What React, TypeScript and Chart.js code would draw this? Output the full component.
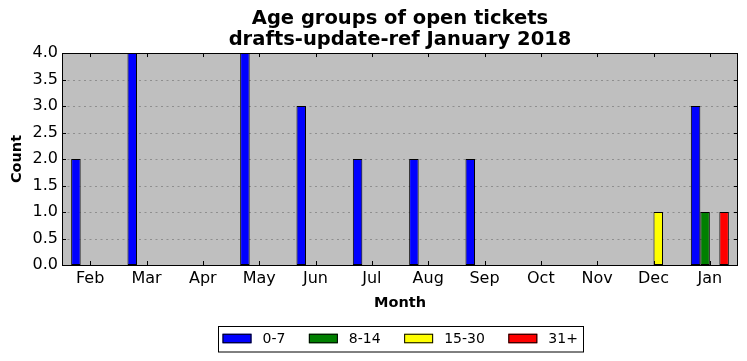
import React, { useEffect, useRef } from "react";
import { Chart, registerables } from "chart.js";

Chart.register(...registerables);

const months = ["Feb", "Mar", "Apr", "May", "Jun", "Jul", "Aug", "Sep", "Oct", "Nov", "Dec", "Jan"];
const age0to7 = [2, 4, 0, 4, 3, 2, 2, 2, 0, 0, 0, 3];
const age8to14 = [0, 0, 0, 0, 0, 0, 0, 0, 0, 0, 0, 1];
const age15to30 = [0, 0, 0, 0, 0, 0, 0, 0, 0, 0, 1, 0];
const age31plus = [0, 0, 0, 0, 0, 0, 0, 0, 0, 0, 0, 1];
const seriesLabels = ["0-7", "8-14", "15-30", "31+"];
const seriesColors = ["#0000ff", "#008000", "#ffff00", "#ff0000"];
const titleLines = ["Age groups of open tickets", "drafts-update-ref January 2018"];
const yMin = 0;
const yMax = 4;
const yStep = 0.5;

const FONT = "'DejaVu Sans', Verdana, sans-serif";

const decorPlugin = {
  id: "decor",
  beforeDraw(chart: any) {
    const { ctx, chartArea: a } = chart;
    ctx.save();
    ctx.fillStyle = "#bfbfbf";
    ctx.fillRect(a.left, a.top, a.right - a.left, a.bottom - a.top);
    // dotted horizontal grid
    const y = chart.scales.y;
    ctx.strokeStyle = "#8e8e8e";
    ctx.lineWidth = 1;
    ctx.setLineDash([2, 3.5]);
    ctx.beginPath();
    y.ticks.forEach((_: any, i: number) => {
      const py = Math.round(y.getPixelForTick(i)) + 0.5;
      ctx.moveTo(a.left, py);
      ctx.lineTo(a.right, py);
    });
    ctx.stroke();
    ctx.restore();
  },
  afterDatasetsDraw(chart: any) {
    const { ctx, chartArea: a, scales } = chart;
    ctx.save();
    ctx.strokeStyle = "#000";
    ctx.lineWidth = 1;
    const tl = 4;
    ctx.beginPath();
    scales.x.ticks.forEach((_: any, i: number) => {
      const px = Math.round(scales.x.getPixelForTick(i)) + 0.5;
      ctx.moveTo(px, a.top);
      ctx.lineTo(px, a.top + tl);
      ctx.moveTo(px, a.bottom);
      ctx.lineTo(px, a.bottom - tl);
    });
    scales.y.ticks.forEach((_: any, i: number) => {
      const py = Math.round(scales.y.getPixelForTick(i)) + 0.5;
      ctx.moveTo(a.left, py);
      ctx.lineTo(a.left + tl, py);
      ctx.moveTo(a.right, py);
      ctx.lineTo(a.right - tl, py);
    });
    ctx.stroke();
    ctx.strokeRect(Math.round(a.left) + 0.5, Math.round(a.top) + 0.5, Math.round(a.right - a.left) - 1, Math.round(a.bottom - a.top));
    ctx.restore();
  },
  afterDraw(chart: any) {
    const { ctx, chartArea: a } = chart;
    const ds = chart.data.datasets;
    ctx.save();
    ctx.font = `14px ${FONT}`;
    const boxW = 29;
    const boxH = 9.5;
    const gap = 11;
    const colSpace = 23.5;
    const padL = 4.5;
    const padR = 5;
    const widths = ds.map((d: any) => ctx.measureText(d.label).width);
    let total = padL + padR + colSpace * (ds.length - 1);
    widths.forEach((w: number) => (total += boxW + gap + w));
    const cx = (a.left + a.right) / 2;
    const left = Math.round(cx - total / 2);
    const top = 326;
    const h = 25.5;
    ctx.strokeStyle = "#000";
    ctx.lineWidth = 1;
    ctx.strokeRect(left + 0.5, top + 0.5, Math.round(total), h);
    let x = left + padL;
    const cy = top + 12.5;
    ds.forEach((d: any, i: number) => {
      ctx.fillStyle = d.backgroundColor;
      ctx.fillRect(x, cy - boxH / 2, boxW, boxH);
      ctx.strokeRect(x + 0.5, cy - boxH / 2 + 0.5, boxW - 1, boxH - 1);
      ctx.fillStyle = "#000";
      ctx.textBaseline = "middle";
      ctx.textAlign = "left";
      ctx.fillText(d.label, x + boxW + gap, cy + 0.5);
      x += boxW + gap + widths[i] + colSpace;
    });
    ctx.restore();
  },
};

export default function App() {
  const ref = useRef<HTMLCanvasElement | null>(null);
  useEffect(() => {
    if (!ref.current) return;
    const series = [age0to7, age8to14, age15to30, age31plus];
    const chart = new Chart(ref.current, {
      type: "bar",
      data: {
        labels: months,
        datasets: series.map((values, i) => ({
          label: seriesLabels[i],
          data: values,
          backgroundColor: seriesColors[i],
          borderColor: "#000",
          borderWidth: 1,
          borderSkipped: false,
          categoryPercentage: 0.675,
          barPercentage: 1,
        })),
      },
      options: {
        responsive: false,
        devicePixelRatio: 1,
        animation: false,
        layout: { padding: { top: 0, left: 0, right: 9, bottom: 46 } },
        plugins: {
          legend: { display: false },
          tooltip: { enabled: false },
          title: {
            display: true,
            text: titleLines,
            fullSize: false,
            color: "#000",
            font: { family: FONT, size: 19.5, weight: "bold", lineHeight: 1.06 },
            padding: { top: 9, bottom: 2.7 },
          },
        },
        scales: {
          x: {
            grid: { display: false, drawTicks: false },
            border: { display: false },
            ticks: { color: "#000", font: { family: FONT, size: 16 }, padding: 4, maxRotation: 0, autoSkip: false },
            title: {
              display: true,
              text: "Month",
              color: "#000",
              font: { family: FONT, size: 14.5, weight: "bold" },
              padding: { top: 0, bottom: 3 },
            },
            afterFit: (s: any) => {
              s.height = 50;
            },
          },
          y: {
            min: yMin,
            max: yMax,
            grid: { display: false, drawTicks: false },
            border: { display: false },
            ticks: {
              stepSize: yStep,
              color: "#000",
              font: { family: FONT, size: 16 },
              padding: 4,
              callback: (v: any) => Number(v).toFixed(1),
            },
            title: {
              display: true,
              text: "Count",
              color: "#000",
              font: { family: FONT, size: 14.5, weight: "bold" },
              padding: { top: 8.3, bottom: 0 },
            },
            afterFit: (s: any) => {
              s.width = 62;
            },
          },
        },
      },
      plugins: [decorPlugin],
    });
    return () => chart.destroy();
  }, []);
  return (
    <div style={{ position: "absolute", left: 0, top: 0, width: 747, height: 361, background: "#fff" }}>
      <canvas ref={ref} width={747} height={361} style={{ display: "block" }} />
    </div>
  );
}
